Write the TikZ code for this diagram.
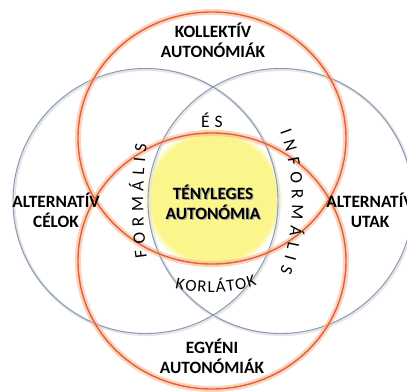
\documentclass[tikz,border=0pt]{standalone}
\usepackage{fontspec}
\setmainfont{Carlito}
\definecolor{ringblue}{RGB}{130,152,180}
\definecolor{ringorange}{RGB}{226,96,56}
\definecolor{gloworange}{RGB}{248,176,136}
\definecolor{coreyellow}{RGB}{251,246,140}
\usetikzlibrary{decorations.text,fadings}
\tikzstyle{bluering}=[draw=ringblue,line width=0.9pt]
\tikzstyle{blueshade}=[draw=black!10,line width=3pt]
\tikzstyle{orangeglow}=[draw=gloworange,line width=6pt,opacity=0.55]
\tikzstyle{orangering}=[draw=ringorange,line width=1.4pt]
\tikzstyle{title}=[font=\bfseries\fontsize{17.3}{20}\selectfont,align=center,inner sep=0pt]
\tikzstyle{spaced}=[font=\fontsize{17.5}{19}\selectfont,inner sep=0pt]

\begin{document}
\begin{tikzpicture}[x=1pt,y=-1pt]

            \clip (0,0) rectangle (407,391);

            \fill[coreyellow,path fading=circle with fuzzy edge 10 percent] (213,198) circle (70);

            \draw[blueshade] (146.5,202) circle (132.5);
            \draw[blueshade] (281.5,202) circle (132.5);
            \draw[bluering] (145.5,201) circle (132.5);
            \draw[bluering] (280.5,201) circle (132.5);

            \draw[orangeglow] (212,138) ellipse [x radius=134,y radius=126];
            \draw[orangeglow] (212,261) ellipse [x radius=134,y radius=128];
            \draw[orangering] (212,138) ellipse [x radius=134,y radius=126];
            \draw[orangering] (212,261) ellipse [x radius=134,y radius=128];

            \node[title] (kollektiv) at (213,40) {KOLLEKTÍV\\AUTONÓMIÁK};
            \node[title] (egyeni) at (212,356.5) {EGYÉNI\\AUTONÓMIÁK};
            \node[title] (celok) at (56,210.5) {ALTERNATÍV\\CÉLOK};
            \node[title] (utak) at (370,210.5) {ALTERNATÍV\\UTAK};
            \node[title,text=black!35] (shadow) at (214.2,203.2) {TÉNYLEGES\\AUTONÓMIA};
            \node[title] (tenyleges) at (213,202) {TÉNYLEGES\\AUTONÓMIA};
            \node[spaced] (es) at (212,120) {É\hspace{5pt}S};

            \path[decorate,decoration={text along path,text align={fit to path},
                text={|\fontsize{17.5}{19}\selectfont|FORMÁLIS}}]
                (147,257) .. controls (142,222) and (142,180) .. (147,145);
            \path[decorate,decoration={text along path,text align={fit to path},
                text={|\fontsize{17.5}{19}\selectfont|INFORMÁLIS}}]
                (280,132) .. controls (296,175) and (296,230) .. (280,272);
            \path[decorate,decoration={text along path,text align={fit to path},
                text={|\fontsize{16.8}{19}\selectfont|KORLÁTOK}}]
                (175,288) .. controls (200,294) and (231,294) .. (257,285);

        \end{tikzpicture}
\end{document}
